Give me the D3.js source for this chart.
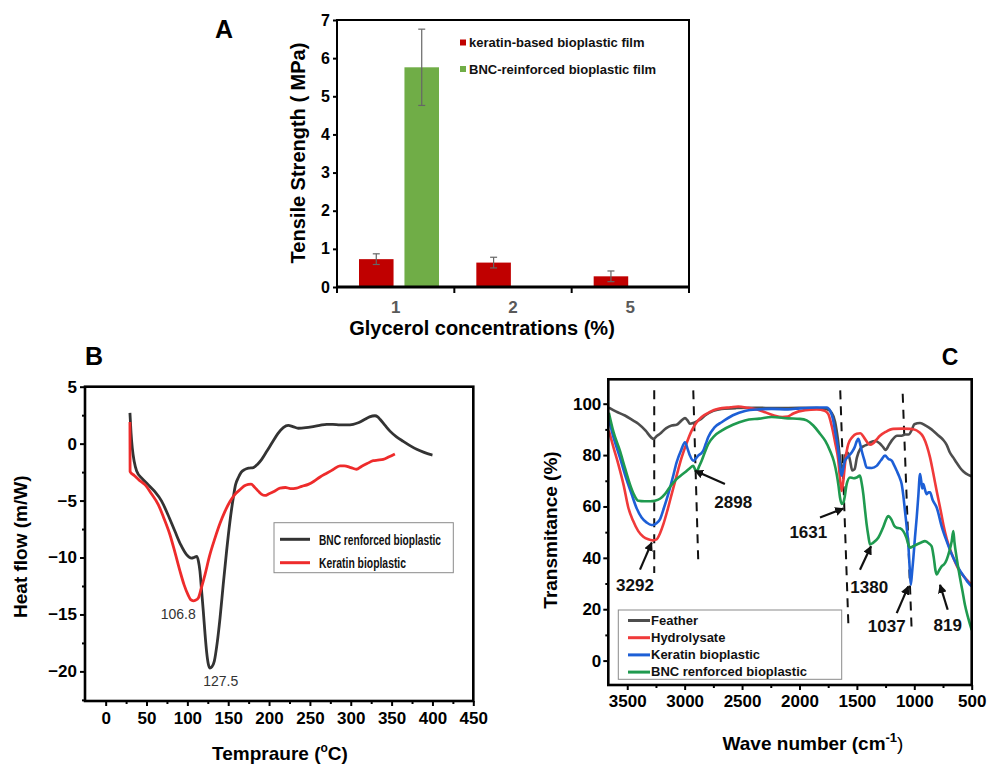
<!DOCTYPE html>
<html><head><meta charset="utf-8">
<script src="https://cdn.jsdelivr.net/npm/d3@7"></script>
<style>body{margin:0;background:#fff;} svg{display:block;}</style>
</head><body><svg id="c" width="989" height="765"></svg>
<script>
// ================= DATA =================
// Panel A : tensile strength
const glycerol = ["1", "2", "5"];
const tsSeries = ["keratin-based bioplastic film", "BNC-reinforced bioplastic film"];
const keratinTS = [0.73, 0.64, 0.28];
const keratinErr = [0.14, 0.14, 0.14];
const bncTS = [5.76, null, null];
const bncErr = [1.0, null, null];
const aTicks = [0, 1, 2, 3, 4, 5, 6, 7];

// Panel B : DSC heat flow  [temperature, heat flow]
const dscSeries = ["BNC renforced bioplastic", "Keratin bioplastic"];
const dscBNC = [[29.7,2.7],[31,1.0],[32.6,-0.4],[35,-1.6],[37.9,-2.4],[45,-3.1],[52,-3.6],[60,-4.2],[68.5,-5.05],[76,-6.2],[84.8,-7.7],[92,-8.9],[99,-9.75],[105,-10.05],[108,-10.0],[111.4,-9.9],[113.5,-10.3],[115.4,-11.2],[117.5,-13],[119.5,-14.7],[121.5,-16.6],[123.6,-18.3],[125.5,-19.3],[127.5,-19.7],[130,-19.6],[133,-19.1],[136.5,-17.5],[140,-15.3],[144,-12.3],[148,-9.45],[152,-6.9],[156.2,-4.75],[159,-3.6],[162.3,-3.0],[166,-2.5],[170.5,-2.26],[175,-2.15],[180.7,-2.1],[186,-1.8],[191,-1.38],[197,-0.7],[205,0.23],[211,0.9],[217.4,1.41],[223.5,1.6],[229,1.5],[235.8,1.35],[245,1.4],[254,1.5],[262,1.6],[270.5,1.7],[278,1.7],[286.8,1.65],[295,1.65],[303,1.7],[310,1.85],[317.4,2.14],[323,2.35],[329.6,2.45],[333,2.35],[335.8,2.14],[342,1.6],[348,1.1],[356,0.6],[364.3,0.2],[372,-0.15],[380.7,-0.5],[389,-0.75],[397,-0.95],[400,-1.0]];
const dscKeratin = [[29.7,1.9],[29.8,-0.5],[29.9,-2.45],[35,-2.8],[41,-3.2],[48,-3.6],[56,-4.4],[64.4,-5.35],[71,-6.5],[78.7,-8.0],[85,-9.6],[91,-11.2],[96,-12.4],[101,-13.3],[104,-13.7],[107.2,-13.8],[110,-13.75],[113.4,-13.55],[117,-12.7],[121.6,-11.5],[127,-9.9],[133.8,-8.3],[140,-7.0],[146,-5.95],[152,-5.1],[158.3,-4.45],[165,-4.0],[170,-3.7],[174.6,-3.58],[178,-3.55],[182,-3.8],[186.8,-4.17],[191,-4.45],[195,-4.55],[200,-4.4],[206,-4.2],[213.4,-3.9],[220,-3.85],[226,-3.95],[233.8,-3.9],[240,-3.75],[248,-3.58],[255,-3.3],[262,-2.95],[270.5,-2.6],[278,-2.3],[286.8,-1.95],[292,-1.95],[300,-2.1],[307,-2.25],[313,-2.0],[320,-1.75],[327.6,-1.5],[333,-1.45],[339.8,-1.38],[347,-1.15],[354,-0.9]];
const dscPeaks = [{label:"106.8", t:88.9, v:-14.94}, {label:"127.5", t:140.8, v:-20.8}];
const bXTicks = [0,50,100,150,200,250,300,350,400,450];
const bYTicks = [-20,-15,-10,-5,0,5];

// Panel C : FTIR  [wave number, transmittance]
const ftirSeries = ["Feather", "Hydrolysate", "Keratin bioplastic", "BNC renforced bioplastic"];
const ftirFeather = [[3660,98.5],[3600,97],[3520,95.4],[3450,93.5],[3404,92.2],[3340,89.5],[3290,86.8],[3273,86.3],[3240,87.5],[3215,88.3],[3160,90.5],[3113,91.5],[3070,91.8],[3026,93.5],[2997,94.4],[2975,93.5],[2954,92.2],[2925,92.5],[2895,93.1],[2860,94],[2823,95.4],[2750,97.2],[2678,98],[2550,98.3],[2388,98.4],[2200,98.3],[1996,98.4],[1850,98.3],[1760,97.8],[1720,96.5],[1690,93],[1665,86],[1645,78],[1630,75],[1615,76],[1600,80],[1580,81],[1560,78],[1540,74],[1520,74.5],[1500,79],[1470,82.5],[1440,83.5],[1415,84],[1380,85],[1340,85.5],[1300,84.5],[1270,83],[1250,82],[1220,84],[1190,86],[1150,87.5],[1110,87.5],[1080,88],[1050,88],[1020,90],[1000,92],[950,92.5],[900,91.5],[850,90],[800,88],[750,86],[718,84],[690,81],[660,79],[631,77],[600,75],[570,73.5],[530,72.3],[500,71.8]];
const ftirHydrolysate = [[3660,89.5],[3620,83],[3578,76.5],[3530,68],[3491,59.6],[3450,54.5],[3404,50.4],[3360,48.2],[3317,47.2],[3280,46.8],[3244,47.2],[3215,49.5],[3186,53],[3150,58.5],[3113,64.8],[3070,72],[3026,79.1],[2980,85],[2939,89.5],[2900,92.5],[2852,94.8],[2780,96.8],[2707,98],[2600,98.6],[2533,98.9],[2450,98.4],[2350,97.5],[2228,95.5],[2150,94.8],[2100,95],[2054,96.2],[1950,97.5],[1850,97.8],[1780,97.2],[1750,96],[1720,91.5],[1690,85],[1662,78],[1645,70],[1633,66],[1618,70],[1600,78],[1575,84.3],[1540,87],[1502,88.3],[1470,88.5],[1440,87],[1410,85],[1385,84],[1360,84.5],[1330,86],[1299,87.5],[1250,89],[1183,90.2],[1100,90.3],[1037,90.2],[990,89.8],[960,89],[921,87],[890,83.5],[863,79.1],[835,73],[805,66],[775,59.5],[747,53],[718,47.5],[690,43.5],[660,40],[620,36],[573,33],[540,31.3],[500,29.5]];
const ftirKeratin = [[3660,94],[3620,87],[3564,79.1],[3510,71],[3462,64.8],[3420,59.5],[3375,55.7],[3330,53.7],[3290,52.8],[3273,52.8],[3245,53.5],[3215,55],[3180,59.5],[3143,64.8],[3105,71],[3070,77.2],[3030,82],[2997,85],[2975,82.5],[2954,79.8],[2925,77.8],[2900,78.8],[2882,79.8],[2860,80.5],[2838,81.7],[2815,84.5],[2794,87],[2740,90.8],[2678,92.8],[2580,95.5],[2475,97.2],[2350,97.8],[2242,98],[2100,97.8],[1996,98.2],[1850,98.5],[1763,98.5],[1730,97],[1706,93.5],[1685,88],[1662,81.7],[1645,75],[1633,72],[1618,75],[1604,77.8],[1575,79.5],[1546,81],[1520,83],[1500,85.5],[1488,86.3],[1470,84],[1458,81.7],[1435,78],[1415,75.2],[1370,75],[1328,75.8],[1290,78],[1255,79.8],[1225,78.5],[1197,77.8],[1175,76],[1153,73.9],[1130,71.5],[1110,68.7],[1095,64],[1081,58.2],[1066,52],[1052,45.2],[1040,36],[1031,29.5],[1020,34],[1008,40],[994,48],[979,55.7],[965,64],[950,72.6],[940,70],[930,67],[921,68.7],[910,67],[892,64.8],[875,65.5],[863,65.5],[840,62.5],[805,59.6],[760,52],[718,46.5],[675,41.5],[631,37.4],[595,34.5],[559,32.2],[530,30.3],[500,28.9]];
const ftirBNC = [[3660,96.5],[3620,89],[3564,81.7],[3520,75],[3477,68.7],[3440,64.5],[3404,62.2],[3350,62],[3300,62],[3259,62.2],[3215,63],[3172,64.8],[3130,67.5],[3085,70],[3040,71.8],[2997,73.3],[2960,74.7],[2925,75.8],[2910,74.5],[2895,73.6],[2875,75.5],[2852,77.8],[2825,81],[2794,84.3],[2740,87.5],[2678,89.5],[2580,91.8],[2475,93.5],[2350,94.2],[2242,94.8],[2100,94.3],[1996,94.1],[1937,93.5],[1880,91.5],[1821,88.3],[1775,85.5],[1734,81.7],[1700,77.5],[1676,72.6],[1660,68],[1647,63.5],[1632,61],[1618,61.5],[1605,64],[1589,68.7],[1560,71.3],[1530,71],[1502,71.3],[1473,72],[1458,69],[1444,64.8],[1430,59],[1415,53],[1400,48.5],[1386,45.2],[1360,45.8],[1314,47.8],[1270,52],[1240,55.5],[1227,56.3],[1200,55],[1175,52.5],[1153,51.7],[1125,51.5],[1096,50.4],[1070,48],[1050,45],[1037,43.9],[1010,44.5],[979,45.2],[940,46],[907,46.5],[870,45.5],[849,44.5],[830,40],[815,35],[805,33.5],[785,35],[762,36.7],[740,37.5],[718,39.3],[695,42.5],[674,46.5],[660,50.4],[650,46],[631,40],[615,35.5],[602,32.2],[580,27],[559,21.7],[530,16.5],[500,11.9]];
// dashed guide lines [top point, bottom point] and arrow annotations (data coords)
const ftirGuides = [[[3265,105.2],[3265,34.1]],[[2925,105.2],[2882,39.3]],[[1645,105.2],[1573,12.6]],[[1101,103.9],[1023,11.9]]];
const ftirPeaks = [
  {label:"3292", tip:[3287,45.9], tail:[3389,35.4], text:[3433,29.5]},
  {label:"2898", tip:[2910,73.9], tail:[2649,68.7], text:[2577,61.8]},
  {label:"1631", tip:[1618,59.2], tail:[1821,55.7], text:[1923,50.0]},
  {label:"1380", tip:[1377,44.5], tail:[1473,35.4], text:[1392,28.6]},
  {label:"1037", tip:[1052,28.9], tail:[1153,18.5], text:[1240,13.5]},
  {label:"819",  tip:[776,29.5],  tail:[709,19.8],  text:[709,13.9]}
];
const cXTicks = [3500,3000,2500,2000,1500,1000,500];
const cYTicks = [0,20,40,60,80,100];

// ================= DRAW =================
const FONT = '"Liberation Sans", Arial, Helvetica, sans-serif';
const svg = d3.select("#c").attr("font-family", FONT);
svg.append("rect").attr("width",989).attr("height",765).attr("fill","#fff");

function styleTicks(g, size, color){
  g.select(".domain").remove();
  g.selectAll(".tick line").attr("stroke","#000").attr("stroke-width",2);
  g.selectAll(".tick text").attr("font-size",size).attr("font-weight","bold")
    .attr("fill",color||"#000").attr("font-family",FONT);
}
function label(x,y,txt,size,opts={}){
  return svg.append("text").attr("x",x).attr("y",y).text(txt)
    .attr("font-size",size).attr("font-weight",opts.weight||"bold")
    .attr("text-anchor",opts.anchor||"middle").attr("fill",opts.fill||"#000");
}

// ---------- Panel A ----------
const A = {l:337, r:689, t:20, b:287};
const xA = d3.scaleBand().domain(glycerol).range([A.l, A.r]);
const subA = d3.scaleBand().domain(tsSeries).range([22, 102]).paddingInner(0.24);
const yA = d3.scaleLinear().domain([0,7]).range([A.b, A.t]);
const colA = d3.scaleOrdinal().domain(tsSeries).range(["#c00000","#70ad47"]);
const barsA = [];
glycerol.forEach((g,i)=>{
  if (keratinTS[i]!=null) barsA.push({g, s:tsSeries[0], v:keratinTS[i], e:keratinErr[i]});
  if (bncTS[i]!=null) barsA.push({g, s:tsSeries[1], v:bncTS[i], e:bncErr[i]});
});
const gA = svg.append("g");
gA.selectAll("rect.bar").data(barsA).join("rect").attr("class","bar")
  .attr("x",d=>xA(d.g)+subA(d.s)).attr("width",subA.bandwidth())
  .attr("y",d=>yA(d.v)).attr("height",d=>yA(0)-yA(d.v)).attr("fill",d=>colA(d.s));
const eb = gA.selectAll("g.eb").data(barsA).join("g").attr("class","eb")
  .attr("stroke","#666").attr("stroke-width",1.2);
eb.append("line").attr("x1",d=>xA(d.g)+subA(d.s)+subA.bandwidth()/2).attr("x2",d=>xA(d.g)+subA(d.s)+subA.bandwidth()/2)
  .attr("y1",d=>yA(d.v+d.e)).attr("y2",d=>yA(d.v-d.e));
eb.append("line").attr("x1",d=>xA(d.g)+subA(d.s)+subA.bandwidth()/2-3.5).attr("x2",d=>xA(d.g)+subA(d.s)+subA.bandwidth()/2+3.5)
  .attr("y1",d=>yA(d.v+d.e)).attr("y2",d=>yA(d.v+d.e));
eb.append("line").attr("x1",d=>xA(d.g)+subA(d.s)+subA.bandwidth()/2-3.5).attr("x2",d=>xA(d.g)+subA(d.s)+subA.bandwidth()/2+3.5)
  .attr("y1",d=>yA(d.v-d.e)).attr("y2",d=>yA(d.v-d.e));
const ayA = gA.append("g").attr("transform",`translate(${A.l},0)`)
  .call(d3.axisLeft(yA).tickValues(aTicks).tickSize(4).tickPadding(3).tickFormat(d3.format("d")));
styleTicks(ayA, 16);
// category boundary ticks & labels
const bounds = glycerol.map(g=>xA(g)).concat([A.r]);
gA.selectAll("line.cb").data(bounds).join("line").attr("class","cb")
  .attr("x1",d=>d).attr("x2",d=>d).attr("y1",A.b).attr("y2",A.b+6).attr("stroke","#000").attr("stroke-width",2);
gA.selectAll("text.cl").data(glycerol).join("text").attr("class","cl")
  .attr("x",d=>xA(d)+xA.bandwidth()/2).attr("y",A.b+26).attr("text-anchor","middle")
  .attr("font-size",17).attr("font-weight","bold").attr("fill","#595959").text(d=>d);
gA.append("rect").attr("x",A.l).attr("y",A.t).attr("width",A.r-A.l).attr("height",A.b-A.t)
  .attr("fill","none").attr("stroke","#000").attr("stroke-width",2);
gA.append("line").attr("x1",A.l-1).attr("x2",A.r+1).attr("y1",A.b).attr("y2",A.b).attr("stroke","#000").attr("stroke-width",3);
// legend A
const legA = gA.append("g");
tsSeries.forEach((s,i)=>{
  legA.append("rect").attr("x",460).attr("y",39.5+i*26.5).attr("width",6).attr("height",6).attr("fill",colA(s));
  legA.append("text").attr("x",469).attr("y",47.2+i*26.5).text(s).attr("font-size",13).attr("font-weight","bold").attr("fill","#111");
});
label(224,38,"A",25);
svg.append("text").attr("transform","translate(305,153) rotate(-90)").attr("text-anchor","middle")
  .attr("font-size",20).attr("font-weight","bold").text("Tensile Strength ( MPa)");
label(482,335,"Glycerol concentrations (%)",20);

// ---------- Panel B ----------
const B = {l:85, r:473.3, t:386.7, b:701};
const xB = d3.scaleLinear().domain([-25.3,450]).range([B.l,B.r]);
const yB = d3.scaleLinear().domain([-22.6,5]).range([B.b,B.t]);
const gB = svg.append("g");
const lineB = d3.line().x(d=>xB(d[0])).y(d=>yB(d[1])).curve(d3.curveMonotoneX);
gB.append("path").datum(dscBNC).attr("d",lineB).attr("fill","none").attr("stroke","#333")
  .attr("stroke-width",2.8).attr("stroke-linejoin","round");
gB.append("path").datum(dscKeratin).attr("d",lineB).attr("fill","none").attr("stroke","#ee2b2b")
  .attr("stroke-width",2.8).attr("stroke-linejoin","round");
gB.selectAll("text.pk").data(dscPeaks).join("text").attr("class","pk")
  .attr("x",d=>xB(d.t)).attr("y",d=>yB(d.v)+5).attr("text-anchor","middle")
  .attr("font-size",14).attr("fill","#333").text(d=>d.label);
const bxMin = d3.range(25,450,50), byMin = d3.range(-22.5,5,5);
styleTicks(gB.append("g").attr("transform",`translate(0,${B.b})`).call(d3.axisBottom(xB).tickValues(bxMin).tickSize(3).tickFormat("")),17);
styleTicks(gB.append("g").attr("transform",`translate(${B.l},0)`).call(d3.axisLeft(yB).tickValues(byMin).tickSize(3).tickFormat("")),17);
styleTicks(gB.append("g").attr("transform",`translate(0,${B.b})`).call(d3.axisBottom(xB).tickValues(bXTicks).tickSize(5).tickPadding(6)),17);
styleTicks(gB.append("g").attr("transform",`translate(${B.l},0)`).call(d3.axisLeft(yB).tickValues(bYTicks).tickSize(5).tickPadding(3)),17);
gB.append("rect").attr("x",B.l).attr("y",B.t).attr("width",B.r-B.l).attr("height",B.b-B.t)
  .attr("fill","none").attr("stroke","#000").attr("stroke-width",2.6);
// legend B
gB.append("rect").attr("x",274).attr("y",522.7).attr("width",179.3).attr("height",50)
  .attr("fill","#fff").attr("stroke","#8a8a8a").attr("stroke-width",1);
const colB = ["#333","#ee2b2b"], lenB=[122,87];
dscSeries.forEach((s,i)=>{
  const y = 539.3 + i*23.4;
  gB.append("line").attr("x1",280).attr("x2",310).attr("y1",y).attr("y2",y).attr("stroke",colB[i]).attr("stroke-width",3);
  gB.append("text").attr("x",319).attr("y",y+5.5).text(s).attr("font-family",'"Liberation Sans Narrow", "Liberation Sans", Arial, sans-serif')
    .attr("font-size",15).attr("font-weight","bold").attr("fill","#111")
    .attr("textLength",lenB[i]).attr("lengthAdjust","spacingAndGlyphs");
});
label(94,365,"B",25);
svg.append("text").attr("transform","translate(27,546.7) rotate(-90)").attr("text-anchor","middle")
  .attr("font-size",19).attr("font-weight","bold").text("Heat flow (m/W)");
const tB = label(280,760,"",19);
tB.append("tspan").text("Tempraure (");
tB.append("tspan").text("o").attr("font-size",12).attr("dy",-8);
tB.append("tspan").text("C)").attr("dy",8);

// ---------- Panel C ----------
const C = {l:608.3, r:971.7, t:379.3, b:685};
const xC = d3.scaleLinear().domain([3665,500]).range([C.l,C.r]);
const yC = d3.scaleLinear().domain([-9.5,109.5]).range([C.b,C.t]);
const gC = svg.append("g");
const colC = d3.scaleOrdinal().domain(ftirSeries).range(["#4d4d4d","#f03a3a","#1d5fd6","#1f9a4f"]);
// guides
gC.selectAll("line.guide").data(ftirGuides).join("line").attr("class","guide")
  .attr("x1",d=>xC(d[0][0])).attr("y1",d=>yC(d[0][1])).attr("x2",d=>xC(d[1][0])).attr("y2",d=>yC(d[1][1]))
  .attr("stroke","#111").attr("stroke-width",2).attr("stroke-dasharray","9,7");
const lineC = d3.line().x(d=>xC(d[0])).y(d=>yC(d[1])).curve(d3.curveMonotoneX);
const ftirData = [ftirFeather, ftirHydrolysate, ftirKeratin, ftirBNC];
ftirData.forEach((arr,i)=>{
  gC.append("path").datum(arr).attr("d",lineC).attr("fill","none").attr("stroke",colC(ftirSeries[i]))
    .attr("stroke-width",2.6).attr("stroke-linejoin","round");
});
// arrows
svg.append("defs").append("marker").attr("id","ah").attr("viewBox","0 0 10 10").attr("refX",9).attr("refY",5)
  .attr("markerWidth",9).attr("markerHeight",9).attr("markerUnits","userSpaceOnUse").attr("orient","auto")
  .append("path").attr("d","M0,0 L10,5 L0,10 z").attr("fill","#111");
gC.selectAll("line.arrow").data(ftirPeaks).join("line").attr("class","arrow")
  .attr("x1",d=>xC(d.tail[0])).attr("y1",d=>yC(d.tail[1])).attr("x2",d=>xC(d.tip[0])).attr("y2",d=>yC(d.tip[1]))
  .attr("stroke","#111").attr("stroke-width",2.2).attr("marker-end","url(#ah)");
gC.selectAll("text.pk").data(ftirPeaks).join("text").attr("class","pk")
  .attr("x",d=>xC(d.text[0])).attr("y",d=>yC(d.text[1])+6).attr("text-anchor","middle")
  .attr("font-size",17).attr("font-weight","bold").attr("fill","#111").text(d=>d.label);
const cxMin = d3.range(3250,500,-500), cyMin = d3.range(10,110,20);
styleTicks(gC.append("g").attr("transform",`translate(0,${C.b})`).call(d3.axisBottom(xC).tickValues(cxMin).tickSize(3).tickFormat("")),17);
styleTicks(gC.append("g").attr("transform",`translate(${C.l},0)`).call(d3.axisLeft(yC).tickValues(cyMin).tickSize(3).tickFormat("")),17);
styleTicks(gC.append("g").attr("transform",`translate(0,${C.b})`).call(d3.axisBottom(xC).tickValues(cXTicks).tickSize(5).tickPadding(5).tickFormat(d3.format("d"))),17);
styleTicks(gC.append("g").attr("transform",`translate(${C.l},0)`).call(d3.axisLeft(yC).tickValues(cYTicks).tickSize(5).tickPadding(2)),17);
gC.append("rect").attr("x",C.l).attr("y",C.t).attr("width",C.r-C.l).attr("height",C.b-C.t)
  .attr("fill","none").attr("stroke","#000").attr("stroke-width",2.6);
// legend C
gC.append("rect").attr("x",618.3).attr("y",610).attr("width",223.4).attr("height",69.3)
  .attr("fill","#fff").attr("stroke","#8a8a8a").attr("stroke-width",1);
ftirSeries.forEach((s,i)=>{
  const y = 620.5 + i*17.2;
  gC.append("line").attr("x1",628).attr("x2",650).attr("y1",y).attr("y2",y).attr("stroke",colC(s)).attr("stroke-width",3);
  gC.append("text").attr("x",651).attr("y",y+4).text(s).attr("font-size",13).attr("font-weight","bold").attr("fill","#111");
});
label(950,365,"C",23);
svg.append("text").attr("transform","translate(557,530) rotate(-90)").attr("text-anchor","middle")
  .attr("font-size",19).attr("font-weight","bold").text("Transmitance (%)");
const tC = label(813,750,"",19);
tC.append("tspan").text("Wave number (cm");
tC.append("tspan").text("-1").attr("font-size",13).attr("dy",-8);
tC.append("tspan").text(")").attr("dy",8).attr("font-weight","normal");
</script></body></html>
